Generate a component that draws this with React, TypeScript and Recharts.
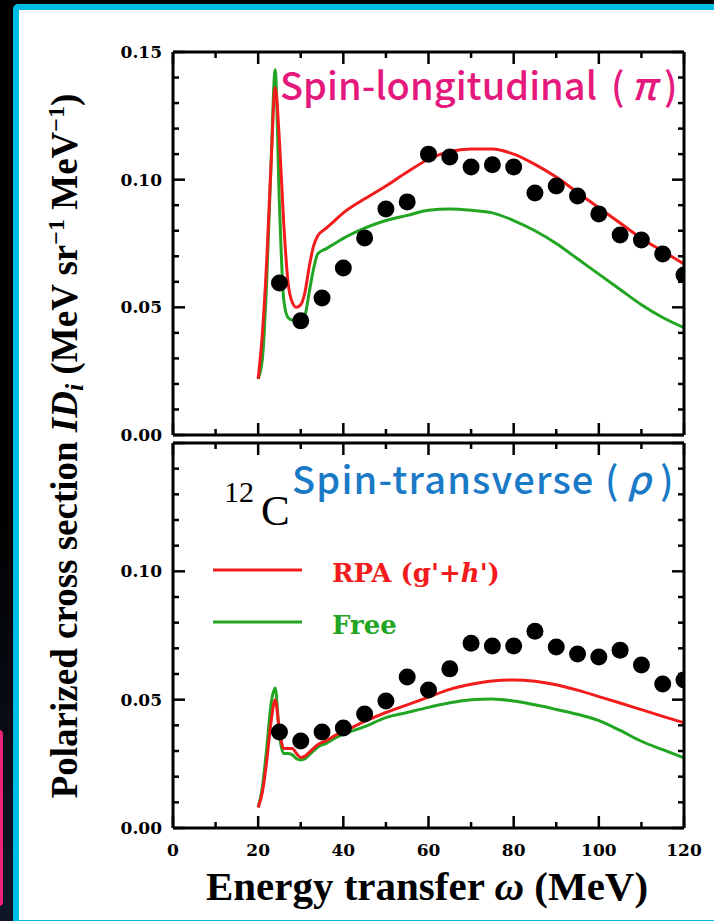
import React from 'react';
import { ComposedChart, Line, Scatter, XAxis, YAxis, Legend } from 'recharts';

// energy transfer grid for the calculated curves (MeV)
const curveOmega = [20, 21, 22, 23, 24, 25, 26, 27, 28, 29, 30, 31, 32, 33, 34, 36, 38, 40, 45, 50, 55, 60, 65, 70, 75, 80, 85, 90, 95, 100, 105, 110, 115, 120];

// spin-longitudinal (pi) panel
const pionRpa = [0.022, 0.040, 0.068, 0.105, 0.136, 0.115, 0.083, 0.060, 0.052, 0.050, 0.051, 0.056, 0.066, 0.074, 0.078, 0.081, 0.084, 0.087, 0.0925, 0.0975, 0.103, 0.108, 0.111, 0.112, 0.112, 0.110, 0.106, 0.101, 0.095, 0.089, 0.083, 0.077, 0.072, 0.067];
const pionFree = [0.022, 0.030, 0.060, 0.105, 0.143, 0.090, 0.053, 0.046, 0.045, 0.045, 0.045, 0.047, 0.056, 0.065, 0.071, 0.073, 0.075, 0.077, 0.081, 0.084, 0.086, 0.088, 0.0885, 0.088, 0.087, 0.084, 0.080, 0.075, 0.069, 0.063, 0.057, 0.051, 0.046, 0.042];

// spin-transverse (rho) panel
const rhoRpa = [0.008, 0.014, 0.026, 0.041, 0.050, 0.038, 0.031, 0.031, 0.031, 0.029, 0.0275, 0.028, 0.0295, 0.031, 0.0325, 0.034, 0.036, 0.0375, 0.0415, 0.045, 0.048, 0.051, 0.054, 0.056, 0.0573, 0.0577, 0.0572, 0.0558, 0.0537, 0.0512, 0.0487, 0.0461, 0.0435, 0.041];
const rhoFree = [0.008, 0.016, 0.031, 0.048, 0.0545, 0.036, 0.029, 0.029, 0.0285, 0.027, 0.0265, 0.027, 0.0285, 0.030, 0.0315, 0.033, 0.035, 0.0365, 0.0395, 0.043, 0.045, 0.047, 0.0488, 0.050, 0.0503, 0.0495, 0.048, 0.0462, 0.0443, 0.0418, 0.038, 0.0338, 0.0305, 0.0273];

// measured points
const dotOmega = [25, 30, 35, 40, 45, 50, 55, 60, 65, 70, 75, 80, 85, 90, 95, 100, 105, 110, 115, 120];
const pionData = [0.0595, 0.0447, 0.0537, 0.0654, 0.0772, 0.0885, 0.0913, 0.110, 0.1089, 0.105, 0.1058, 0.105, 0.0948, 0.0975, 0.0936, 0.0866, 0.0783, 0.0764, 0.0709, 0.0627];
const rhoData = [0.0374, 0.0339, 0.0374, 0.039, 0.0444, 0.0495, 0.0588, 0.0538, 0.062, 0.072, 0.0709, 0.0709, 0.0767, 0.0705, 0.0678, 0.0666, 0.0693, 0.0635, 0.0561, 0.0577];

const xTicks = [0, 10, 20, 30, 40, 50, 60, 70, 80, 90, 100, 110, 120];
const yTicks = [0, 0.01, 0.02, 0.03, 0.04, 0.05, 0.06, 0.07, 0.08, 0.09, 0.10, 0.11, 0.12, 0.13, 0.14, 0.15];

const RED = '#f21c1c';
const GREEN = '#22a522';
const tickFont = { fontFamily: 'DejaVu Serif', fontWeight: 'bold' as const, fontSize: 17 };

const toPoints = (xs: number[], ys: number[]) => xs.map((w, i) => ({ w, v: ys[i] }));
const isMajorX = (v: number) => v % 20 === 0;
const isMajorY = (v: number) => Math.round(v * 100) % 5 === 0;

const makeXTick = (dir: number, labels: boolean) => (props: any) => {
  const { x, y, payload } = props;
  const v = payload.value;
  const len = isMajorX(v) ? 12 : 6;
  return (
    <g>
      <line x1={x} y1={y} x2={x} y2={y + dir * len} stroke="#000" strokeWidth={2.5} />
      {labels && isMajorX(v) && (
        <text x={x} y={y + 28} textAnchor="middle" {...tickFont} fill="#000">{v}</text>
      )}
    </g>
  );
};

const makeYTick = (dir: number, labels: boolean, skipTop: boolean) => (props: any) => {
  const { x, y, payload } = props;
  const v = payload.value;
  const len = isMajorY(v) ? 12 : 6;
  const show = labels && isMajorY(v) && !(skipTop && v > 0.149);
  return (
    <g>
      <line x1={x} y1={y} x2={x + dir * len} y2={y} stroke="#000" strokeWidth={2.5} />
      {show && (
        <text x={x - 11} y={y + 6} textAnchor="end" {...tickFont} fill="#000">{v.toFixed(2)}</text>
      )}
    </g>
  );
};

const Dot = (props: any) => <circle cx={props.cx} cy={props.cy} r={8.5} fill="#000" />;

const LegendBox = (props: any) => {
  const order = ['RPA', 'Free'];
  const items = (props.payload || [])
    .filter((it: any) => it.type !== 'none' && order.includes(String(it.value).split(' ')[0]))
    .sort((a: any, b: any) => order.indexOf(String(a.value).split(' ')[0]) - order.indexOf(String(b.value).split(' ')[0]));
  return (
    <svg width={300} height={110}>
      {items.map((it: any, i: number) => (
        <g key={i}>
          <line x1={0} x2={89} y1={30 + 52 * i} y2={30 + 52 * i} stroke={it.color} strokeWidth={3} />
          <text x={119} y={42 + 52 * i} fill={it.color} fontFamily="DejaVu Serif" fontWeight="bold" fontSize={26}>
            {String(it.value).startsWith('RPA') ? (
              <>RPA (g'+<tspan fontStyle="italic">h</tspan>')</>
            ) : it.value}
          </text>
        </g>
      ))}
    </svg>
  );
};

interface PanelProps {
  rpa: number[];
  free: number[];
  dots: number[];
  height: number;
  margin: { top: number; right: number; bottom: number; left: number };
  bottomLabels: boolean;
  skipTopLabel: boolean;
  legend?: boolean;
}

const frame = { stroke: '#000', strokeWidth: 3 };

const Panel: React.FC<PanelProps> = ({ rpa, free, dots, height, margin, bottomLabels, skipTopLabel, legend }) => (
  <ComposedChart width={714} height={height} margin={margin} style={{ fontFamily: 'DejaVu Serif' }}>
    <XAxis xAxisId="b" dataKey="w" type="number" domain={[0, 120]} ticks={xTicks} interval={0}
      allowDataOverflow height={bottomLabels ? 40 : 1} tickSize={0} tickMargin={0} tickLine={false}
      axisLine={frame} tick={makeXTick(-1, bottomLabels)} />
    <XAxis xAxisId="t" orientation="top" dataKey="w" type="number" domain={[0, 120]} ticks={xTicks} interval={0}
      allowDataOverflow height={1} tickSize={0} tickMargin={0} tickLine={false}
      axisLine={frame} tick={makeXTick(1, false)} />
    <YAxis yAxisId="l" type="number" domain={[0, 0.15]} ticks={yTicks} interval={0} allowDataOverflow
      width={60} tickSize={0} tickMargin={0} tickLine={false}
      axisLine={frame} tick={makeYTick(1, true, skipTopLabel)} />
    <YAxis yAxisId="r" orientation="right" type="number" domain={[0, 0.15]} ticks={yTicks} interval={0} allowDataOverflow
      width={1} tickSize={0} tickMargin={0} tickLine={false}
      axisLine={frame} tick={makeYTick(-1, false, false)} />
    {/* the free curve runs on the mirrored top/right axes (same domains) so the full frame is drawn */}
    <Line xAxisId="t" yAxisId="r" data={toPoints(curveOmega, free)} dataKey="v" name="Free" type="monotone"
      stroke={GREEN} strokeWidth={3} dot={false} isAnimationActive={false} />
    <Line xAxisId="b" yAxisId="l" data={toPoints(curveOmega, rpa)} dataKey="v" name="RPA (g'+h')" type="monotone"
      stroke={RED} strokeWidth={3} dot={false} isAnimationActive={false} />
    <Scatter xAxisId="b" yAxisId="l" data={toPoints(dotOmega, dots)} dataKey="v" shape={Dot}
      legendType="none" isAnimationActive={false} />
    {legend && (
      <Legend layout="horizontal" verticalAlign="middle" align="center" content={LegendBox}
        wrapperStyle={{ left: 213, top: 100, width: 300, height: 110 }} />
    )}
  </ComposedChart>
);

const App: React.FC = () => (
  <div style={{ position: 'absolute', left: 0, top: 0, width: 714, height: 921, overflow: 'hidden',
    background: 'linear-gradient(180deg, #000 55%, #0e1727 100%)' }}>
    <div style={{ position: 'absolute', left: -6, top: 730, width: 9, height: 176, borderRadius: 4, background: '#ec2379' }} />
    <div style={{ position: 'absolute', left: 13, top: 4, width: 720, height: 922, boxSizing: 'border-box',
      border: '6px solid #00bde6', borderRadius: 5, background: '#fff' }} />
    <div style={{ position: 'absolute', left: 0, top: 0 }}>
      <Panel rpa={pionRpa} free={pionFree} dots={pionData} height={455}
        margin={{ top: 51, right: 29, bottom: 19, left: 113 }} bottomLabels={false} skipTopLabel={false} />
    </div>
    <div style={{ position: 'absolute', left: 0, top: 440 }}>
      <Panel rpa={rhoRpa} free={rhoFree} dots={rhoData} height={481}
        margin={{ top: 2, right: 29, bottom: 53, left: 113 }} bottomLabels skipTopLabel legend />
    </div>
    <svg width={714} height={921} style={{ position: 'absolute', left: 0, top: 0, pointerEvents: 'none' }}>
      <text y={100} fill="#e5197d" fontFamily="Noto Sans CJK JP" fontWeight={500} fontSize={38}>
        <tspan x={280}>Spin-longitudinal</tspan>
        <tspan x={611}>(</tspan>
        <tspan x={631} fontStyle="italic">π</tspan>
        <tspan x={664}>)</tspan>
      </text>
      <text y={494} fill="#1a7ac6" fontFamily="Noto Sans CJK JP" fontWeight={500} fontSize={38}>
        <tspan x={292} letterSpacing={1.2}>Spin-transverse</tspan>
        <tspan x={605}>(</tspan>
        <tspan x={627} fontStyle="italic">ρ</tspan>
        <tspan x={660}>)</tspan>
      </text>
      <text x={224} y={502} fontFamily="Liberation Serif" fontSize={30} fill="#000">12</text>
      <text x={261} y={525} fontFamily="Liberation Serif" fontSize={43} fill="#000">C</text>
      <text x={427} y={900} textAnchor="middle" fontFamily="Liberation Serif" fontWeight="bold" fontSize={41} fill="#000">
        Energy transfer <tspan fontStyle="italic">ω</tspan> (MeV)
      </text>
      <text transform="translate(77,446) rotate(-90)" textAnchor="middle" fontFamily="Liberation Serif"
        fontWeight="bold" fontSize={37} fill="#000">
        Polarized cross section <tspan fontStyle="italic">ID</tspan><tspan fontStyle="italic" fontSize={26} dy={6}>i</tspan>
        <tspan dy={-6}> (MeV sr</tspan><tspan fontSize={24} dy={-13}>−1</tspan><tspan dy={13}> MeV</tspan>
        <tspan fontSize={24} dy={-13}>−1</tspan><tspan dy={13}>)</tspan>
      </text>
    </svg>
  </div>
);

export default App;
